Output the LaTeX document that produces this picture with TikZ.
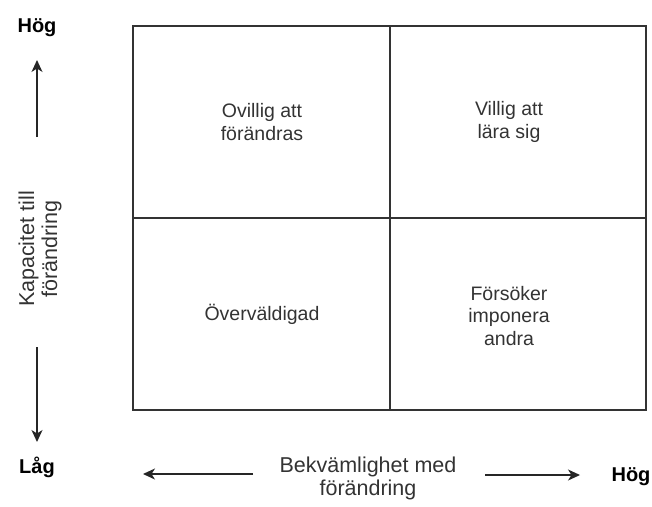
\documentclass[tikz,border=0pt]{standalone}
\usepackage{fontspec}
\setmainfont{Liberation Sans}
\usepackage{xcolor}
\usepackage{tikz}
\usetikzlibrary{arrows.meta}

\tikzset{
  cell/.style={draw=black!80, line width=1.6pt},
  celltext/.style={align=center, text=black!80, font=\fontsize{19.5}{22.5}\selectfont},
  axistext/.style={align=center, text=black!80, font=\fontsize{21.5}{23}\selectfont},
  endtext/.style={font=\bfseries\fontsize{20}{22}\selectfont},
  axis/.style={line width=1.4pt, black!85, -{Stealth[length=12pt,width=11pt,inset=3.5pt]}}
}

\begin{document}
\begin{tikzpicture}[x=1pt,y=-1pt]
  \useasboundingbox (0,0) rectangle (652,506);
  \draw[cell] (133,26)  rectangle (390,218);
  \draw[cell] (390,26)  rectangle (646,218);
  \draw[cell] (133,218) rectangle (390,410);
  \draw[cell] (390,218) rectangle (646,410);

  \node[celltext] (ovillig)  at (262,122) {Ovillig att\\förändras};
  \node[celltext] (villig)   at (509,122) {Villig att\\lära sig};
  \node[celltext] (overvald) at (262,314) {Överväldigad};
  \node[celltext] (forsoker) at (509,316) {Försöker\\imponera\\andra};

  \node[endtext] (hogy) at (37,28)  {Hög};
  \node[endtext] (lagy) at (37,467) {Låg};
  \node[endtext] (hogx) at (631,477) {Hög};
  \node[axistext, rotate=90] (kapacitet) at (40,249) {Kapacitet till\\förändring};
  \node[axistext] (bekvam) at (368,478) {Bekvämlighet med\\förändring};

  \coordinate (upfrom)    at (37,137);
  \coordinate (upto)      at (37,60);
  \coordinate (downfrom)  at (37,347);
  \coordinate (downto)    at (37,442);
  \coordinate (leftfrom)  at (253,474);
  \coordinate (leftto)    at (143,474);
  \coordinate (rightfrom) at (485,475);
  \coordinate (rightto)   at (580,475);

  \draw[axis] (upfrom) -- (upto);
  \draw[axis] (downfrom) -- (downto);
  \draw[axis] (leftfrom) -- (leftto);
  \draw[axis] (rightfrom) -- (rightto);
\end{tikzpicture}
\end{document}
